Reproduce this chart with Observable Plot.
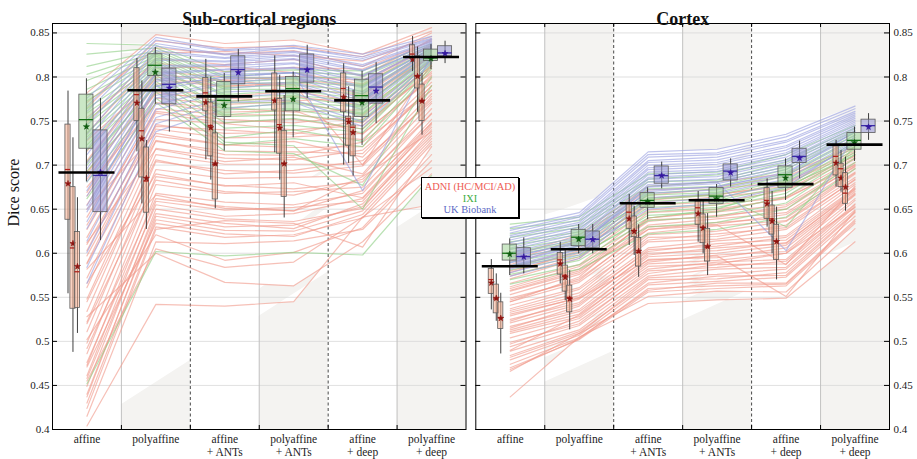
<!DOCTYPE html>
<html><head><meta charset="utf-8">
<script src="https://cdn.jsdelivr.net/npm/d3@7"></script>
<script src="https://cdn.jsdelivr.net/npm/@observablehq/plot@0.6"></script>
<style>
body{margin:0;background:#fff;}
#wrap{position:relative;width:917px;height:459px;overflow:hidden;font-family:"Liberation Serif",serif;background:#fff;}
#left,#right{position:absolute;top:0;}
#left{left:0;} #right{left:470px;}
#legend{position:absolute;left:421px;top:177px;width:98px;height:41px;border:1px solid #000;box-shadow:1px 1px 0 #000;background:#fff;text-align:center;font-size:10.4px;line-height:11.7px;padding-top:3px;box-sizing:border-box;}
</style></head>
<body><div id="wrap"><div id="left"></div><div id="right"></div>
<div id="legend"><div style="color:#ee5c55">ADNI (HC/MCI/AD)</div><div style="color:#3fae3f">IXI</div><div style="color:#5a68c4">UK Biobank</div></div></div>
<script>
// ---------- categories / ticks ----------
const categories = ["affine","polyaffine","affine\n+ ANTs","polyaffine\n+ ANTs","affine\n+ deep","polyaffine\n+ deep"];
const yTicks = [0.4,0.45,0.5,0.55,0.6,0.65,0.7,0.75,0.8,0.85];
const groups = ["HC","MCI","AD","IXI","UKB"];

// ---------- box statistics: [low whisker, q1, median, q3, high whisker, mean] per category ----------
const subHC  = [[.554,.638,.695,.746,.784,.679],[.715,.750,.780,.810,.821,.7705],[.706,.761,.782,.799,.820,.771],[.714,.762,.785,.804,.824,.773],[.700,.760,.787,.804,.815,.777],[.806,.822,.826,.836,.846,.820]];
const subMCI = [[.4875,.537,.606,.675,.731,.611],[.656,.686,.739,.764,.7955,.730],[.683,.710,.745,.771,.800,.7425],[.683,.713,.746,.775,.802,.742],[.702,.722,.7525,.755,.789,.749],[.760,.787,.801,.8235,.834,.8008]];
const subAD  = [[.509,.538,.579,.624,.663,.585],[.627,.646,.682,.720,.728,.685],[.6505,.661,.7005,.736,.779,.7016],[.640,.664,.7016,.739,.779,.7016],[.6875,.710,.743,.745,.785,.737],[.734,.750,.7724,.7914,.804,.7728]];
const subIXI = [[.681,.7186,.7516,.780,.798,.7436],[.769,.801,.8133,.8258,.8334,.8053],[.716,.7545,.7735,.7943,.804,.7678],[.731,.761,.7868,.800,.8057,.7747],[.7224,.7546,.7788,.797,.8065,.7709],[.8084,.8182,.8216,.8311,.8368,.8209]];
const subUKB = [[.6144,.6466,.6883,.7394,.7755,.692],[.7375,.769,.7917,.8095,.8255,.7875],[.7716,.7917,.8084,.8235,.8311,.805],[.7755,.7936,.8091,.8255,.836,.808],[.747,.7698,.7886,.8031,.8164,.7841],[.8152,.8235,.8273,.8349,.8406,.8266]];
const subMean = [.6917,.7849,.778,.7838,.7735,.8227];

const ctxHC  = [[.5357,.5539,.5701,.5823,.5928,.5664],[.5652,.5758,.5925,.6004,.6125,.588],[.6088,.6277,.6466,.6561,.6667,.6391],[.6125,.6323,.6516,.6587,.6701,.6448],[.6296,.639,.6599,.6739,.6845,.6561],[.675,.6883,.7099,.7213,.7281,.7023]];
const ctxMCI = [[.5228,.5318,.5481,.5644,.5766,.5489],[.5462,.5565,.575,.586,.603,.5727],[.5974,.6182,.6258,.6417,.6531,.6247],[.5993,.6114,.6296,.644,.660,.6284],[.5993,.6212,.639,.6542,.670,.6364],[.6693,.675,.6959,.7016,.7167,.6853]];
const ctxAD  = [[.4857,.5141,.5266,.5443,.5546,.5262],[.513,.533,.550,.5633,.5803,.5481],[.5727,.5849,.6011,.6175,.6323,.6023],[.5747,.5906,.6068,.6277,.645,.6076],[.5698,.5925,.6136,.6323,.6523,.6133],[.6477,.6561,.6682,.6909,.7091,.675]];
const ctxIXI = [[.5747,.5917,.600,.6099,.6164,.5989],[.5993,.608,.6182,.6266,.6326,.6159],[.638,.6516,.6599,.6682,.6743,.6584],[.6409,.6561,.6648,.6739,.678,.6618],[.6599,.6743,.6891,.6985,.7072,.6853],[.7042,.7175,.7281,.7364,.7432,.7255]];
const ctxUKB = [[.5766,.586,.5962,.6057,.6175,.5959],[.5993,.6057,.6159,.6247,.6326,.6156],[.6732,.6789,.6881,.6985,.7034,.6881],[.675,.6826,.6932,.7008,.7072,.6913],[.6845,.7023,.7099,.7186,.7273,.708],[.7281,.7364,.7448,.7516,.7584,.7432]];
const ctxMean = [.5853,.6046,.6568,.6602,.6784,.7232];

// ---------- per-subject lines (one value per category) ----------
const subADNI = [
[.782,.848,.838,.842,.826,.856],[.765,.841,.833,.835,.823,.852],[.771,.833,.826,.830,.812,.850],[.748,.827,.829,.824,.818,.846],
[.736,.821,.814,.820,.801,.843],[.754,.816,.806,.811,.809,.841],[.716,.810,.812,.805,.792,.838],[.703,.803,.796,.801,.796,.835],
[.728,.797,.789,.794,.781,.833],[.684,.792,.797,.788,.779,.829],[.669,.786,.778,.784,.771,.826],[.693,.781,.776,.773,.777,.823],
[.655,.776,.769,.772,.757,.820],[.641,.771,.765,.760,.763,.817],[.627,.764,.757,.757,.748,.813],[.618,.759,.748,.752,.741,.810],
[.603,.752,.747,.740,.745,.806],[.589,.746,.736,.737,.729,.802],[.597,.741,.731,.732,.736,.798],[.572,.733,.723,.720,.721,.794],
[.561,.727,.716,.715,.713,.790],[.548,.719,.708,.706,.717,.785],[.534,.712,.701,.701,.701,.781],[.522,.704,.694,.691,.699,.775],
[.511,.695,.685,.686,.688,.770],[.498,.687,.677,.673,.681,.764],[.486,.678,.668,.670,.675,.759],[.473,.668,.658,.655,.668,.752],
[.461,.659,.649,.652,.659,.746],[.449,.650,.639,.636,.651,.740],[.437,.642,.630,.632,.653,.733],[.471,.634,.622,.619,.644,.727],
[.424,.627,.637,.634,.607,.721],[.502,.621,.592,.601,.629,.712],[.415,.613,.611,.614,.627,.705],[.455,.605,.584,.590,.641,.697],
[.528,.600,.567,.563,.613,.690],[.404,.542,.540,.545,.641,.655],[.566,.690,.676,.680,.663,.748],[.612,.718,.704,.709,.690,.778],
[.582,.666,.651,.648,.687,.738],[.650,.736,.723,.727,.709,.790],[.690,.800,.790,.792,.700,.815],[.675,.770,.760,.762,.735,.800],
[.588,.728,.712,.711,.726,.785],[.545,.706,.690,.694,.705,.772],[.520,.683,.670,.666,.684,.758],[.492,.662,.653,.648,.671,.748],
[.476,.655,.642,.645,.662,.743],[.458,.645,.634,.628,.656,.736],[.440,.638,.626,.625,.648,.730],[.430,.630,.618,.621,.640,.724],
[.610,.744,.740,.735,.752,.804],[.632,.761,.752,.748,.756,.812],[.665,.783,.772,.778,.768,.824],[.705,.806,.800,.797,.790,.836]];
const subIXIlines = [
[.838,.836,.806,.808,.807,.838],[.826,.833,.801,.805,.803,.836],[.812,.830,.799,.799,.800,.834],[.803,.828,.794,.798,.791,.833],
[.796,.826,.792,.794,.790,.832],[.786,.824,.788,.791,.784,.831],[.779,.821,.786,.786,.781,.830],[.773,.819,.780,.785,.775,.828],
[.764,.817,.778,.779,.773,.827],[.759,.813,.772,.777,.767,.826],[.751,.811,.771,.771,.766,.824],[.746,.808,.765,.770,.759,.823],
[.737,.806,.763,.764,.758,.821],[.732,.802,.757,.763,.751,.820],[.723,.799,.755,.757,.749,.819],[.717,.795,.748,.753,.741,.817],
[.704,.790,.742,.745,.737,.815],[.693,.783,.731,.740,.727,.812],[.681,.776,.723,.730,.721,.809],[.700,.792,.726,.722,.650,.790],
[.662,.771,.716,.713,.677,.800],[.452,.602,.597,.601,.598,.688]];
const subUKBlines = [
[.776,.845,.831,.836,.826,.846],[.767,.842,.830,.833,.823,.844],[.761,.838,.826,.833,.821,.843],[.751,.835,.825,.829,.819,.842],
[.745,.830,.822,.828,.814,.841],[.735,.827,.821,.825,.812,.840],[.729,.821,.818,.824,.808,.839],[.718,.819,.817,.821,.807,.838],
[.712,.813,.814,.820,.802,.837],[.702,.811,.813,.816,.801,.836],[.696,.805,.809,.815,.796,.835],[.687,.803,.808,.811,.795,.834],
[.681,.797,.805,.810,.789,.833],[.671,.795,.803,.805,.788,.832],[.665,.789,.800,.805,.783,.831],[.654,.786,.798,.800,.781,.830],
[.647,.779,.794,.799,.775,.829],[.636,.776,.792,.794,.773,.828],[.628,.769,.787,.793,.767,.826],[.614,.763,.783,.786,.763,.824],
[.601,.754,.776,.782,.754,.822],[.584,.747,.771,.774,.749,.819],[.650,.790,.800,.805,.671,.825],[.566,.738,.764,.771,.744,.816]];

const ctxADNI = [
[.596,.621,.676,.681,.690,.721],[.591,.617,.672,.675,.687,.719],[.587,.614,.666,.673,.681,.716],[.583,.606,.663,.666,.679,.714],
[.578,.603,.657,.664,.672,.711],[.574,.596,.655,.658,.671,.708],[.571,.594,.649,.655,.664,.707],[.566,.587,.646,.650,.662,.703],
[.562,.585,.640,.647,.655,.701],[.557,.578,.638,.641,.653,.698],[.553,.576,.632,.639,.646,.696],[.549,.569,.630,.633,.644,.692],
[.545,.567,.623,.631,.637,.690],[.541,.561,.621,.625,.636,.686],[.537,.559,.615,.622,.629,.684],[.533,.552,.613,.616,.627,.680],
[.529,.550,.606,.614,.620,.678],[.525,.544,.604,.608,.618,.674],[.521,.542,.598,.606,.611,.672],[.517,.536,.596,.600,.609,.668],
[.513,.534,.590,.598,.602,.666],[.509,.528,.588,.592,.600,.662],[.504,.526,.582,.590,.593,.660],[.499,.520,.580,.584,.591,.656],
[.494,.518,.574,.582,.584,.653],[.489,.513,.572,.576,.582,.649],[.484,.511,.566,.574,.575,.646],[.479,.507,.564,.568,.573,.642],
[.474,.504,.558,.566,.566,.638],[.470,.502,.556,.560,.563,.634],[.466,.509,.551,.557,.556,.628],[.437,.505,.543,.547,.549,.613],
[.531,.549,.592,.597,.551,.648],[.558,.580,.627,.632,.587,.676],[.490,.530,.585,.588,.600,.652],[.545,.573,.640,.648,.663,.700],
[.560,.582,.636,.643,.650,.699],[.547,.571,.627,.635,.640,.691],[.535,.555,.618,.619,.632,.683],[.523,.548,.602,.611,.615,.673],
[.511,.531,.593,.595,.606,.667],[.497,.523,.577,.587,.588,.655],[.482,.509,.570,.571,.578,.647],[.468,.503,.560,.563,.565,.636],
[.580,.600,.660,.667,.676,.710],[.515,.540,.600,.603,.612,.670]];
const ctxIXIlines = [
[.633,.641,.690,.692,.712,.745],[.628,.637,.684,.689,.706,.742],[.622,.632,.681,.683,.703,.739],[.618,.629,.676,.681,.698,.737],
[.613,.624,.673,.676,.695,.734],[.609,.621,.668,.673,.690,.731],[.605,.617,.666,.669,.688,.729],[.601,.615,.661,.666,.683,.726],
[.598,.611,.659,.662,.681,.724],[.594,.608,.655,.660,.676,.721],[.590,.604,.652,.655,.673,.718],[.586,.601,.647,.652,.668,.715],
[.581,.596,.643,.647,.664,.712],[.576,.592,.637,.642,.657,.708],[.570,.587,.630,.635,.650,.703],[.565,.582,.622,.627,.641,.696],
[.600,.613,.662,.667,.630,.722],[.585,.598,.640,.650,.675,.712]];
const ctxUKBlines = [
[.629,.646,.715,.718,.735,.767],[.626,.643,.712,.714,.732,.764],[.623,.641,.709,.712,.728,.761],[.620,.638,.705,.709,.726,.759],
[.618,.635,.703,.706,.722,.757],[.615,.633,.700,.703,.720,.755],[.612,.630,.697,.701,.717,.753],[.609,.627,.695,.698,.714,.751],
[.606,.625,.692,.695,.712,.749],[.604,.622,.689,.693,.709,.747],[.601,.619,.686,.690,.706,.745],[.598,.617,.684,.687,.704,.743],
[.595,.614,.681,.684,.701,.741],[.592,.611,.678,.681,.698,.739],[.589,.608,.675,.679,.695,.737],[.586,.605,.672,.675,.692,.734],
[.582,.601,.668,.672,.688,.731],[.578,.598,.663,.668,.684,.728],[.574,.594,.657,.663,.679,.724],[.590,.609,.676,.681,.603,.735],
[.596,.612,.670,.676,.690,.738],[.584,.604,.650,.657,.675,.727]];

// ---------- styling (not data) ----------
const Y_TOP = 0.8607;
const OFF = [-0.275,-0.203,-0.138,-0.008,0.196];
const WID = [0.075,0.075,0.075,0.205,0.205];
const BOXFILL = ["#f8b496","#f8b496","#f8b496","#a6d69c","#9a9ad6"];
const MEDCOL = ["#b0231c","#b0231c","#b0231c","#126f12","#3a2aa6"];
const MEANCOL = ["#8e1410","#8e1410","#8e1410","#0d5a0d","#3518a0"];
const LINECOL = {ADNI:"#f09a8b", IXI:"#8fce86", UKB:"#9aa0e0"};

function panel({title, stats, means, lines, side, width, ml, mr}) {
  const rows = [];
  lines.forEach(([set, arr]) => arr.forEach((vals, li) => vals.forEach((v, i) => rows.push({id: set + li, set, x: i + 0.5, y: v}))));
  const boxes = [];
  stats.forEach((st, gi) => st.forEach((s, i) => boxes.push({gi, c: i + 0.5 + OFF[gi], w: WID[gi], lo: s[0], q1: s[1], med: s[2], q3: s[3], hi: s[4], mean: s[5]})));
  const kx = 5 / 69, ky = 4 / 880;
  const marks = [
    Plot.rect([1, 3, 5], {x1: d => d, x2: d => d + 1, y1: 0.4, y2: Y_TOP, fill: "#f4f3f1"}),
    Plot.line(rows, {x: "x", y: "y", z: "id", fill: "white", stroke: "none"}),
    Plot.ruleY(yTicks, {stroke: "#d8d8d8", strokeWidth: 0.8}),
    Plot.ruleX([1, 3, 5], {stroke: "#bdbdbd", strokeWidth: 0.9}),
    Plot.ruleX([2, 4], {stroke: "#333", strokeWidth: 0.9, strokeDasharray: "3,2.5"}),
  ];
  for (const set of ["ADNI", "IXI", "UKB"]) {
    marks.push(Plot.line(rows.filter(r => r.set === set), {x: "x", y: "y", z: "id", stroke: LINECOL[set], strokeWidth: 1.2, strokeOpacity: 0.62}));
  }
  for (let gi = 0; gi < 5; gi++) {
    const b = boxes.filter(d => d.gi === gi);
    marks.push(
      Plot.ruleX(b, {x: "c", y1: "lo", y2: "hi", stroke: "#2a2a2a", strokeWidth: 0.9}),
      Plot.rect(b, {x1: d => d.c - d.w / 2, x2: d => d.c + d.w / 2, y1: "q1", y2: "q3", fill: BOXFILL[gi], fillOpacity: 0.58, stroke: "#5c5c5c", strokeWidth: 0.8}),
      Plot.ruleY(b, {x1: d => d.c - d.w / 2, x2: d => d.c + d.w / 2, y: "med", stroke: MEDCOL[gi], strokeWidth: 1.3}),
      Plot.dot(b, {x: "c", y: "mean", symbol: "star", r: 1.9, fill: MEANCOL[gi], stroke: MEANCOL[gi], strokeWidth: 0.6})
    );
  }
  marks.push(
    Plot.ruleY(means.map((m, i) => ({x1: i + 0.5 - 0.406, x2: i + 0.5 + 0.406, y: m})), {x1: "x1", x2: "x2", y: "y", stroke: "#000", strokeWidth: 2.6}),
    Plot.frame({stroke: "#000", strokeWidth: 1}),
    Plot.ruleY(yTicks, {x1: 0, x2: kx, stroke: "#000", strokeWidth: 1}),
    Plot.ruleY(yTicks, {x1: 6 - kx, x2: 6, stroke: "#000", strokeWidth: 1}),
    Plot.ruleX([1, 2, 3, 4, 5], {y1: 0.4, y2: 0.4 + ky, stroke: "#000"}),
    Plot.ruleX([1, 2, 3, 4, 5], {y1: Y_TOP - ky, y2: Y_TOP, stroke: "#000"}),
    Plot.text(yTicks, {y: d => d, text: d => String(d), frameAnchor: side === "left" ? "left" : "right", dx: side === "left" ? -3 : 4, textAnchor: side === "left" ? "end" : "start", fontSize: 11, fill: "#222"}),
    Plot.text(categories, {x: (d, i) => i + 0.5, frameAnchor: "bottom", lineAnchor: "top", dy: 5, fontSize: 11.5, lineHeight: 1.1, fill: "#222"}),
    Plot.text([title], {frameAnchor: "top", dy: -11, fontSize: 18, fontWeight: "bold", fill: "#111"})
  );
  if (side === "left") marks.push(Plot.text(["Dice score"], {frameAnchor: "left", dx: -39, rotate: -90, fontSize: 16, fill: "#111"}));
  return Plot.plot({
    width, height: 459, marginTop: 23, marginBottom: 30, marginLeft: ml, marginRight: mr,
    x: {domain: [0, 6], axis: null}, y: {domain: [0.4, Y_TOP], axis: null},
    style: {fontFamily: "'Liberation Serif', serif", fontSize: "11px", background: "transparent", overflow: "visible"},
    marks
  });
}

document.getElementById("left").append(panel({
  title: "Sub-cortical regions", stats: [subHC, subMCI, subAD, subIXI, subUKB], means: subMean,
  lines: [["ADNI", subADNI], ["IXI", subIXIlines], ["UKB", subUKBlines]], side: "left", width: 470, ml: 52, mr: 4.5
}));
document.getElementById("right").append(panel({
  title: "Cortex", stats: [ctxHC, ctxMCI, ctxAD, ctxIXI, ctxUKB], means: ctxMean,
  lines: [["ADNI", ctxADNI], ["IXI", ctxIXIlines], ["UKB", ctxUKBlines]], side: "right", width: 447, ml: 5.3, mr: 28
}));
</script></body></html>
